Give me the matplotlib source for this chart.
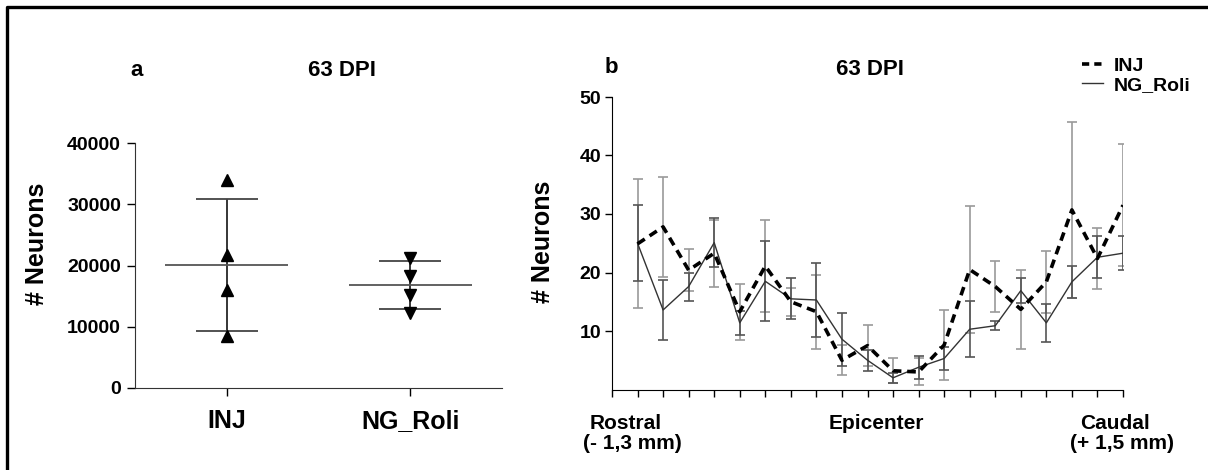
import matplotlib
matplotlib.use("Agg")
import matplotlib.pyplot as plt
from matplotlib.lines import Line2D
import numpy as np

# ------------ Data -----------------

# panel a: individual animals, total neuron counts
groups = ["INJ", "NG_Roli"]
inj_counts = [34000, 21700, 16000, 8500]
ng_counts = [21300, 18300, 15200, 12200]

# panel b: neurons per section along the cord (mean, error)
positions = list(range(1, 21))
inj_mean = [24.9, 27.8, 20.4, 23.3, 13.3, 21.1, 15.0, 13.3, 5.0, 7.5,
            3.2, 3.0, 7.6, 20.5, 17.6, 13.7, 18.4, 30.7, 22.4, 31.5]
inj_err = [11.0, 8.6, 3.6, 5.7, 4.8, 7.8, 2.4, 6.3, 2.6, 3.5,
           2.1, 2.3, 6.0, 10.9, 4.3, 6.8, 5.3, 15.0, 5.2, 10.4]
ng_mean = [25.0, 13.6, 17.6, 25.1, 11.4, 18.5, 15.5, 15.3, 8.6, 5.0,
           2.0, 3.8, 5.3, 10.3, 10.9, 16.9, 11.4, 18.4, 22.6, 23.3]
ng_err = [6.5, 5.1, 2.4, 4.2, 2.0, 6.8, 3.5, 6.4, 4.5, 1.8,
          0.9, 2.0, 2.0, 4.8, 0.8, 2.1, 3.3, 2.7, 3.6, 2.9]

region_labels = ["Rostral", "(- 1,3 mm)", "Epicenter", "Caudal", "(+ 1,5 mm)"]
region_x = [0.55, 0.8, 10.35, 19.7, 19.95]
region_row = [0, 1, 0, 0, 1]

# -----------------------------------

plt.rcParams["font.family"] = ["Liberation Sans", "DejaVu Sans"]
plt.rcParams["font.weight"] = "bold"

W, H = 1208, 470
fig = plt.figure(figsize=(W / 100, H / 100), dpi=100)

# frame lines (left and top only)
fig.add_artist(Line2D([7 / W, 7 / W, 1], [0, 1 - 7 / H, 1 - 7 / H],
                      transform=fig.transFigure, color="black", lw=2.4))

# ---- panel a ----
ax1 = fig.add_axes([135 / W, 1 - 388 / H, (502 - 135) / W, (388 - 143) / H])
for i, vals in enumerate([inj_counts, ng_counts]):
    x = i + 1
    m = np.mean(vals)
    sd = np.std(vals, ddof=1)
    ax1.plot([x] * len(vals), vals, "^" if i == 0 else "v", color="black", ms=8, zorder=3)
    ax1.vlines(x, m - sd, m + sd, color="black", lw=1.1)
    ax1.hlines(m, x - 0.335, x + 0.335, color="#555555", lw=1.3)
    ax1.hlines([m - sd, m + sd], x - 0.168, x + 0.168, color="#444444", lw=1.3)

ax1.set_xlim(0.5, 2.5)
ax1.set_ylim(0, 40000)
ax1.set_yticks([0, 10000, 20000, 30000, 40000])
ax1.set_xticks([1, 2])
ax1.set_xticklabels(groups, fontsize=18, fontweight="bold")
ax1.tick_params(axis="y", labelsize=14, length=6, width=1, pad=4)
ax1.tick_params(axis="x", length=6, width=1, pad=9)
for s in ["top", "right"]:
    ax1.spines[s].set_visible(False)
for s in ["left", "bottom"]:
    ax1.spines[s].set_color("#333333")
ax1.set_ylabel("# Neurons", fontsize=18, fontweight="bold")
ax1.yaxis.set_label_coords(-0.235, 0.59)

fig.text(130 / W, 1 - 76 / H, "a", fontsize=16, fontweight="bold", va="baseline")
fig.text(342 / W, 1 - 76 / H, "63 DPI", fontsize=16, fontweight="bold",
         va="baseline", ha="center")

# ---- panel b ----
ax2 = fig.add_axes([612 / W, 1 - 389.5 / H, (1123 - 612) / W, (389.5 - 97) / H])
ax2.errorbar(positions, inj_mean, yerr=inj_err, fmt="none", ecolor="#9a9a9a",
             elinewidth=1.2, capsize=3.6, capthick=1.2, zorder=1)
ax2.errorbar(positions, ng_mean, yerr=ng_err, fmt="none", ecolor="#555555",
             elinewidth=1.2, capsize=3.6, capthick=1.2, zorder=1)
ax2.plot(positions, inj_mean, color="black", lw=2.6, ls=(0, (2.4, 1.6)), zorder=3)
ax2.plot(positions, ng_mean, color="#333333", lw=1.0, zorder=2)

ax2.set_xlim(0, 20)
ax2.set_ylim(0, 50)
ax2.set_yticks([10, 20, 30, 40, 50])
ax2.set_xticks(range(0, 21))
ax2.set_xticklabels([])
ax2.tick_params(axis="y", labelsize=14, length=5, width=1, pad=3)
ax2.tick_params(axis="x", length=5, width=1)
for s in ["top", "right"]:
    ax2.spines[s].set_visible(False)
ax2.set_ylabel("# Neurons", fontsize=18, fontweight="bold")
ax2.yaxis.set_label_coords(-0.112, 0.505)

for lab, xv, row in zip(region_labels, region_x, region_row):
    ax2.text(xv, -0.135 - row * 0.068, lab, transform=ax2.get_xaxis_transform(),
             ha="center", va="baseline", fontsize=15, fontweight="bold")

fig.text(605 / W, 1 - 73 / H, "b", fontsize=16, fontweight="bold", va="baseline")
fig.text(870 / W, 1 - 75 / H, "63 DPI", fontsize=16, fontweight="bold",
         va="baseline", ha="center")

handles = [Line2D([], [], color="black", lw=2.6, ls=(0, (2.0, 1.4))),
           Line2D([], [], color="#333333", lw=1.0)]
ax2.legend(handles, groups, loc="upper left", bbox_to_anchor=(1082 / W, 1 - 57 / H),
           bbox_transform=fig.transFigure, frameon=False,
           handlelength=1.1, handletextpad=0.55, labelspacing=0.1, borderpad=0,
           borderaxespad=0, prop={"weight": "bold", "size": 14})

fig.savefig("out.png", dpi=100)
